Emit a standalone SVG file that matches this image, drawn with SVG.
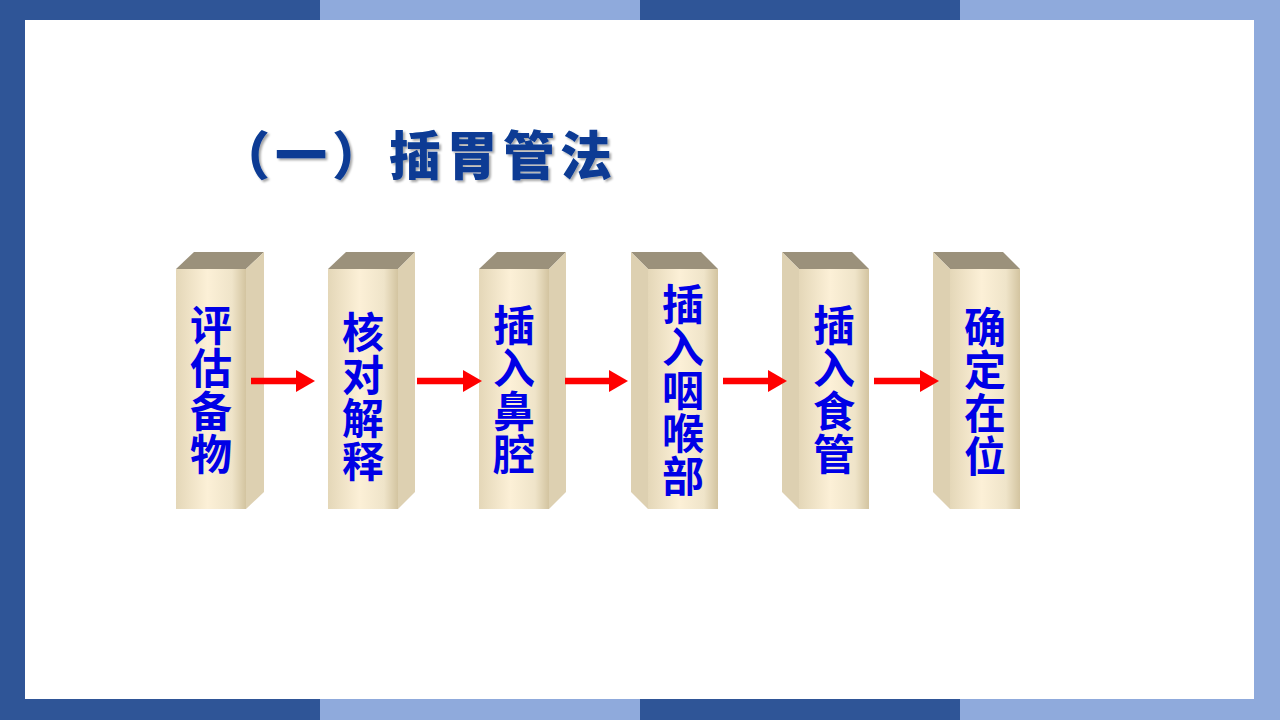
<svg xmlns="http://www.w3.org/2000/svg" width="1280" height="720" viewBox="0 0 1280 720">
<defs>
<linearGradient id="front" x1="0" y1="0" x2="1" y2="0">
<stop offset="0" stop-color="#E4D7B8"/>
<stop offset="0.45" stop-color="#FCF0D7"/>
<stop offset="0.8" stop-color="#EFE4C9"/>
<stop offset="1" stop-color="#D3C4A0"/>
</linearGradient>
<marker id="ah" markerWidth="19" markerHeight="22" refX="0" refY="11" orient="auto" markerUnits="userSpaceOnUse">
<path d="M0,0 L19,11 L0,22 Z" fill="#FF0000"/>
</marker>
<filter id="sh" x="-5%" y="-20%" width="110%" height="140%">
<feDropShadow dx="2" dy="2" stdDeviation="1.2" flood-color="#000" flood-opacity="0.35"/>
</filter>
</defs>
<style>
.front{fill:url(#front)}
.side{fill:#DDD0B1}
.top{fill:#9B917B}
.lbl{font-family:"Noto Sans CJK SC","Noto Sans CJK JP",sans-serif;font-weight:bold;font-size:42px;fill:#0000E6;writing-mode:vertical-rl;letter-spacing:1px}
.title{font-family:"Noto Sans CJK SC",sans-serif;font-weight:900;font-size:52px;fill:#083A94;letter-spacing:5px}
.arr{stroke:#FF0000;stroke-width:6.5;fill:none}
</style>
<rect width="1280" height="720" fill="#FFFFFF"/>
<g id="frame">
<rect x="0" y="0" width="320" height="20" fill="#2F5597"/>
<rect x="320" y="0" width="320" height="20" fill="#8FAADC"/>
<rect x="640" y="0" width="320" height="20" fill="#2F5597"/>
<rect x="960" y="0" width="320" height="20" fill="#8FAADC"/>
<rect x="0" y="699" width="320" height="21" fill="#2F5597"/>
<rect x="320" y="699" width="320" height="21" fill="#8FAADC"/>
<rect x="640" y="699" width="320" height="21" fill="#2F5597"/>
<rect x="960" y="699" width="320" height="21" fill="#8FAADC"/>
<rect x="0" y="0" width="25" height="720" fill="#2F5597"/>
<rect x="1254" y="0" width="26" height="720" fill="#8FAADC"/>
</g>
<text id="title" class="title" x="218" y="175" filter="url(#sh)">（一）插胃管法</text>
<g id="node1">
<polygon class="top" points="176,269 194,252 264,252 246,269"/>
<polygon class="side" points="246,269 264,252 264,492 246,509"/>
<rect class="front" x="176" y="269" width="70" height="240"/>
<text class="lbl" x="211" y="304">评估备物</text>
</g>
<g id="node2">
<polygon class="top" points="328,269 346,252 415,252 398,269"/>
<polygon class="side" points="398,269 415,252 415,492 398,509"/>
<rect class="front" x="328" y="269" width="70" height="240"/>
<text class="lbl" x="363" y="311">核对解释</text>
</g>
<g id="node3">
<polygon class="top" points="479,269 497,252 566,252 549,269"/>
<polygon class="side" points="549,269 566,252 566,492 549,509"/>
<rect class="front" x="479" y="269" width="70" height="240"/>
<text class="lbl" x="514" y="304">插入鼻腔</text>
</g>
<g id="node4">
<polygon class="top" points="631,252 701,252 718,269 648,269"/>
<polygon class="side" points="631,252 648,269 648,509 631,492"/>
<rect class="front" x="648" y="269" width="70" height="240"/>
<text class="lbl" x="683" y="283">插入咽喉部</text>
</g>
<g id="node5">
<polygon class="top" points="782,252 852,252 869,269 799,269"/>
<polygon class="side" points="782,252 799,269 799,509 782,492"/>
<rect class="front" x="799" y="269" width="70" height="240"/>
<text class="lbl" x="834" y="304">插入食管</text>
</g>
<g id="node6">
<polygon class="top" points="933,252 1003,252 1020,269 950,269"/>
<polygon class="side" points="933,252 950,269 950,509 933,492"/>
<rect class="front" x="950" y="269" width="70" height="240"/>
<text class="lbl" x="985" y="306">确定在位</text>
</g>
<g id="connectors">
<line class="arr" x1="251" y1="381" x2="296" y2="381" marker-end="url(#ah)"/>
<line class="arr" x1="417" y1="381" x2="463" y2="381" marker-end="url(#ah)"/>
<line class="arr" x1="565" y1="381" x2="609" y2="381" marker-end="url(#ah)"/>
<line class="arr" x1="723" y1="381" x2="768" y2="381" marker-end="url(#ah)"/>
<line class="arr" x1="874" y1="381" x2="920" y2="381" marker-end="url(#ah)"/>
</g>
</svg>
